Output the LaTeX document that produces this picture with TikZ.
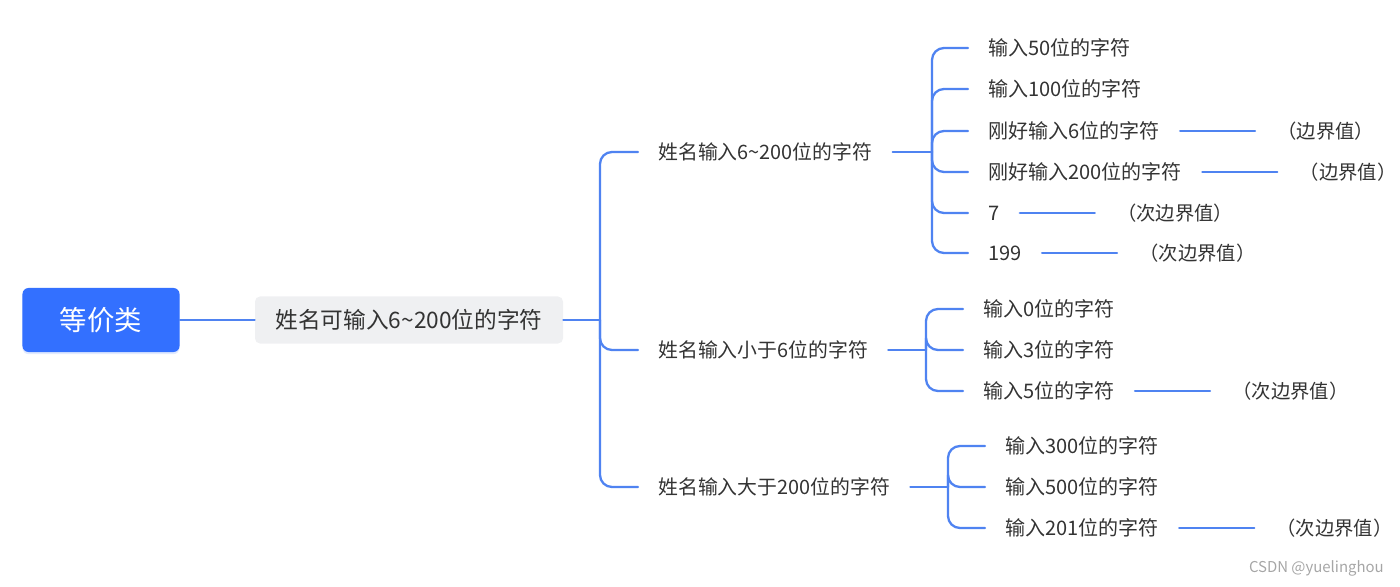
\documentclass[tikz,border=0pt]{standalone}
\usepackage{fontspec}
\setmainfont{Noto Sans CJK SC}
\usepackage{xcolor}
\usepackage{tikz}
\usetikzlibrary{positioning,calc,shadows}
\definecolor{rootblue}{HTML}{3370FF}
\definecolor{linkblue}{HTML}{4F83F1}
\definecolor{softgray}{HTML}{EFF0F2}
\definecolor{ink}{HTML}{333333}
\tikzset{
    every picture/.style={line cap=round,line join=round},
    rootnode/.style={fill=rootblue,text=white,rounded corners=1.2mm,
      minimum width=31.4mm,minimum height=12.8mm,inner sep=0pt,
      font=\fontsize{15.6}{18}\selectfont,
      drop shadow={shadow xshift=0pt,shadow yshift=-1.2pt,opacity=0.15,fill=rootblue}},
    topicnode/.style={fill=softgray,text=ink,rounded corners=1mm,
      minimum width=61.6mm,minimum height=9.4mm,inner sep=0pt,
      font=\fontsize{12.9}{15}\selectfont},
    branchnode/.style={text=ink,anchor=west,inner xsep=4mm,inner ysep=1pt,
      font=\fontsize{11.3}{13}\selectfont},
    leafnode/.style={text=ink,anchor=west,inner xsep=4mm,inner ysep=1pt,
      font=\fontsize{11.4}{13}\selectfont},
    notenode/.style={text=ink,inner xsep=4.4mm,inner ysep=1pt,
      font=\fontsize{11}{13}\selectfont},
    linkline/.style={draw=linkblue,line width=1.3pt},
    bracket/.style={linkline,rounded corners=2.4mm}
}

\begin{document}
\begin{tikzpicture}[x=0.2mm,y=-0.2mm]
  \useasboundingbox (0,0) rectangle (1400,587);
  \node[rootnode] (root) at (101,320) {等价类};
  \node[topicnode] (topic) at (409,320) {姓名可输入6\textasciitilde200位的字符};
  \draw[linkline] (root.east) -- (topic.west);
  \coordinate (hub) at (600,320);
  \coordinate (sixhub) at (932,152);
  \coordinate (lesshub) at (926,350);
  \coordinate (morehub) at (948,487);
  \draw[linkline] (topic.east) -- (hub);
  \foreach \b/\y/\t in {six/152/姓名输入6\textasciitilde200位的字符,
      less/350/姓名输入小于6位的字符,more/487/姓名输入大于200位的字符} {
    \node[branchnode] (\b) at (638,\y) {\t};
    \draw[bracket] (hub) |- (\b.west);
    \draw[linkline] (\b.east) -- (\b hub);
  }
  \foreach \n/\y/\t in {1/48/输入50位的字符,2/89/输入100位的字符,3/131/刚好输入6位的字符,
      4/172/刚好输入200位的字符,5/213/7,6/253/199} {
    \node[leafnode] (six\n) at (968,\y) {\t};
    \draw[bracket] (sixhub) |- (six\n.west);
  }
  \foreach \n/\y/\t in {1/309/输入0位的字符,2/350/输入3位的字符,3/391/输入5位的字符} {
    \node[leafnode] (less\n) at (963,\y) {\t};
    \draw[bracket] (lesshub) |- (less\n.west);
  }
  \foreach \n/\y/\t in {1/446/输入300位的字符,2/487/输入500位的字符,3/528/输入201位的字符} {
    \node[leafnode] (more\n) at (985,\y) {\t};
    \draw[bracket] (morehub) |- (more\n.west);
  }
  \foreach \l/\t in {six3/（边界值）,six4/（边界值）,six5/（次边界值）,six6/（次边界值）,
      less3/（次边界值）,more3/（次边界值）} {
    \node[notenode,right=15mm of \l] (note\l) {\t};
    \draw[linkline] (\l.east) -- (note\l.west);
  }
  \node[anchor=east,text=black!35,font=\fontsize{8.5}{10}\selectfont] (credit)
    at (1390,568) {CSDN @yuelinghou};
\end{tikzpicture}
\end{document}
